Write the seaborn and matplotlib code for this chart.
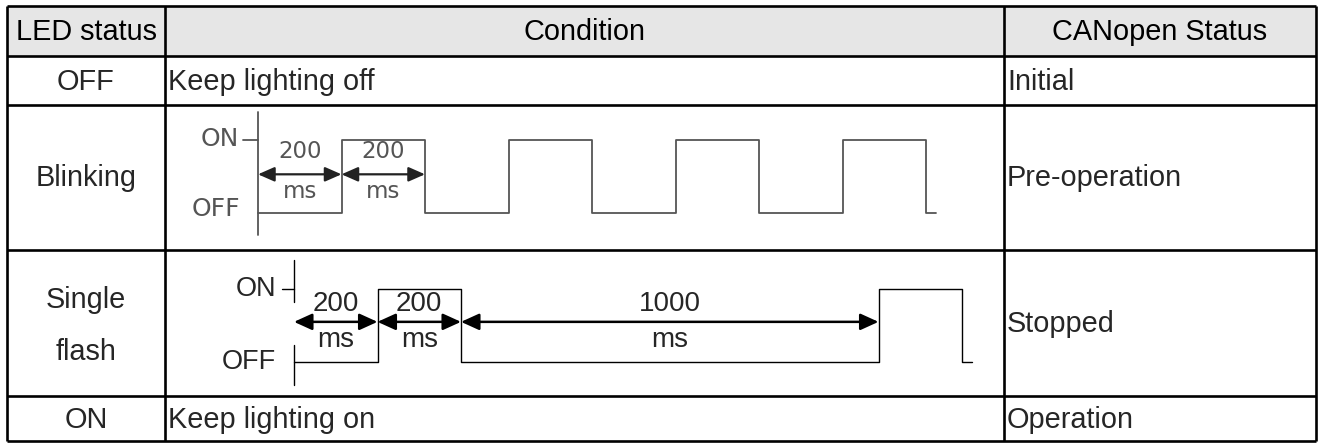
import matplotlib
matplotlib.use("Agg")
import matplotlib.pyplot as plt
import seaborn as sns

# ---------------- data ----------------
headers = ["LED status", "Condition", "CANopen Status"]
led_status = ["OFF", "Blinking", "Single\nflash", "ON"]
conditions = ["Keep lighting off", "", "", "Keep lighting on"]
canopen_status = ["Initial", "Pre-operation", "Stopped", "Operation"]

level_labels = ["OFF", "ON"]

blink_time_ms = [0, 200, 400, 600, 800, 1000, 1200, 1400, 1600, 1625]
blink_level = [0, 1, 0, 1, 0, 1, 0, 1, 0, 0]
blink_spans_ms = [(0, 200), (200, 400)]
blink_span_labels = ["200", "200"]

flash_time_ms = [0, 200, 400, 1400, 1600, 1625]
flash_level = [0, 1, 0, 1, 0, 0]
flash_spans_ms = [(0, 200), (200, 400), (400, 1400)]
flash_span_labels = ["200", "200", "1000"]
unit_label = "ms"

# ---------------- layout ----------------
W, H = 1319, 443
col_x = [7, 165, 1004, 1316]
row_y = [6, 56, 105, 250, 396, 441]
PX_PER_MS = 0.4175
LEVEL_PX = 73

sns.set_theme(style="white")
plt.rcParams["font.family"] = ["Liberation Sans", "DejaVu Sans"]

fig = plt.figure(figsize=(W / 100, H / 100), dpi=100)
ax = fig.add_axes([0, 0, 1, 1])
ax.set_xlim(0, W)
ax.set_ylim(H, 0)
ax.axis("off")

FS = 20.8
ax.fill_between([col_x[0], col_x[-1]], row_y[0], row_y[1], color="#e6e6e6", lw=0)
ax.hlines(row_y, col_x[0], col_x[-1], color="black", lw=1.9)
ax.vlines(col_x, row_y[0], row_y[-1], color="black", lw=1.9)

for i, h in enumerate(headers):
    ax.text((col_x[i] + col_x[i + 1]) / 2, (row_y[0] + row_y[1]) / 2 + 1, h,
            ha="center", va="center", fontsize=FS, color="black")

for r in range(4):
    yc = (row_y[r + 1] + row_y[r + 2]) / 2 + 1
    ax.text((col_x[0] + col_x[1]) / 2, yc + (2 if "\n" in led_status[r] else 0),
            led_status[r], ha="center", va="center", fontsize=FS, linespacing=2.05)
    if conditions[r]:
        ax.text(col_x[1] + 3, yc, conditions[r], ha="left", va="center", fontsize=FS)
    ax.text(col_x[2] + 3, yc, canopen_status[r], ha="left", va="center", fontsize=FS)


def diagram_axes(x0, y_off):
    left_px, right_px = x0 - 110, x0 + PX_PER_MS * 1750
    top_px, bottom_px = y_off - LEVEL_PX - 45, y_off + 40
    a = fig.add_axes([left_px / W, 1 - bottom_px / H,
                      (right_px - left_px) / W, (bottom_px - top_px) / H])
    a.set_xlim(-110 / PX_PER_MS, 1750)
    a.set_ylim(-40 / LEVEL_PX, (LEVEL_PX + 45) / LEVEL_PX)
    a.axis("off")
    a.patch.set_alpha(0)
    return a


# ---- Blinking diagram (grey) ----
gcol = "#555555"
GFS = 16.5
ab = diagram_axes(258, 213)
sns.lineplot(x=blink_time_ms, y=blink_level, drawstyle="steps-post", estimator=None,
             color=gcol, lw=1.3, ax=ab)
ab.plot([0, 0], [1.38, -0.30], color=gcol, lw=1.3)
ab.plot([-36, 0], [1, 1], color=gcol, lw=1.3)
ab.text(-46, 1.02, level_labels[1], ha="right", va="center", fontsize=18,
        color=gcol, family="DejaVu Sans")
ab.text(-43, 0.05, level_labels[0], ha="right", va="center", fontsize=18,
        color=gcol, family="DejaVu Sans")
for (t0, t1), lab in zip(blink_spans_ms, blink_span_labels):
    ab.annotate("", xy=(t1, 0.53), xytext=(t0, 0.53),
                arrowprops=dict(arrowstyle="<|-|>,head_length=0.5,head_width=0.22",
                                lw=1.6, color="#222222", shrinkA=0, shrinkB=0,
                                mutation_scale=20))
    ab.text((t0 + t1) / 2, 0.84, lab, ha="center", va="center", fontsize=GFS,
            color=gcol, family="DejaVu Sans")
    ab.text((t0 + t1) / 2, 0.30, unit_label, ha="center", va="center", fontsize=GFS,
            color=gcol, family="DejaVu Sans")

# ---- Single flash diagram (black) ----
af = diagram_axes(294, 362)
sns.lineplot(x=flash_time_ms, y=flash_level, drawstyle="steps-post", estimator=None,
             color="black", lw=1.0, ax=af)
af.plot([0, 0], [1.40, 0.82], color="black", lw=1.0)
af.plot([0, 0], [0.23, -0.32], color="black", lw=1.0)
af.plot([-29, 0], [1, 1], color="black", lw=1.0)
af.text(-43, 1, level_labels[1], ha="right", va="center", fontsize=19.5)
af.text(-43, 0, level_labels[0], ha="right", va="center", fontsize=19.5)
for (t0, t1), lab in zip(flash_spans_ms, flash_span_labels):
    af.annotate("", xy=(t1, 0.55), xytext=(t0, 0.55),
                arrowprops=dict(arrowstyle="<|-|>,head_length=0.55,head_width=0.25",
                                lw=1.8, color="black", shrinkA=0, shrinkB=0,
                                mutation_scale=20))
    af.text((t0 + t1) / 2, 0.79, lab, ha="center", va="center", fontsize=20)
    af.text((t0 + t1) / 2, 0.30, unit_label, ha="center", va="center", fontsize=20)

fig.savefig("out.png", dpi=100)
